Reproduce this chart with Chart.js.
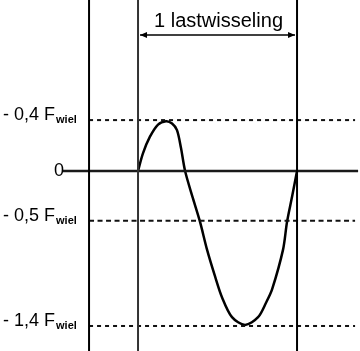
<!DOCTYPE html>
<html>
<head>
<meta charset="utf-8">
<script src="https://cdn.jsdelivr.net/npm/chart.js@4"></script>
<style>
  html, body { margin: 0; padding: 0; background: #fff; }
  #wrap { width: 360px; height: 351px; position: relative; }
</style>
</head>
<body>
<div id="wrap"><canvas id="chart"></canvas></div>
<script>
// one load cycle runs from t = 0 to t = 1, force in units of F_wiel
const curveT = [0, 0.031, 0.075, 0.126, 0.176, 0.214, 0.245, 0.27, 0.296, 0.346, 0.39, 0.434, 0.484, 0.528, 0.591, 0.673, 0.755, 0.805, 0.843, 0.912, 0.937, 0.969, 1.0];
const curveY = [0, 0.16, 0.31, 0.42, 0.45, 0.43, 0.37, 0.21, 0, -0.25, -0.46, -0.71, -0.95, -1.14, -1.32, -1.39, -1.32, -1.19, -1.07, -0.71, -0.46, -0.23, 0];

// reference levels (dotted / dashed) and their labels
const levelValues = [0.46, -0.45, -1.4];
const levelDash = [[4, 4], [5, 3.5], [4, 4]];
const tickValues = [0.46, 0, -0.45, -1.4];
const tickMain = ['- 0,4 F', '0', '- 0,5 F', '- 1,4 F'];
const tickSub = ['wiel', '', 'wiel', 'wiel'];

// vertical lines: force axis, start and end of the cycle
const axisT = -0.308;
const cycleStart = 0;
const cycleEnd = 1;
const cycleLabel = '1 lastwisseling';

const X_MIN = -0.868, X_MAX = 1.396;
const Y_MIN = -1.626, Y_MAX = 1.545;
const ZERO_FROM = -0.478, ZERO_TO = 1.384;
const LEVEL_TO = 1.365;

const datasets = [];

// vertical lines
[axisT, cycleStart, cycleEnd].forEach((t, i) => {
  datasets.push({
    data: [{ x: t, y: Y_MIN }, { x: t, y: Y_MAX }],
    borderColor: i === 1 ? '#333' : '#000',
    borderWidth: 2
  });
});

// zero line
datasets.push({
  data: [{ x: ZERO_FROM, y: 0 }, { x: ZERO_TO, y: 0 }],
  borderColor: '#1a1a1a',
  borderWidth: 2.5
});

// dotted / dashed levels
levelValues.forEach((v, i) => {
  datasets.push({
    data: [{ x: axisT, y: v }, { x: LEVEL_TO, y: v }],
    borderColor: '#111',
    borderWidth: 2,
    borderDash: levelDash[i]
  });
});

// load curve
datasets.push({
  data: curveT.map((t, i) => ({ x: t, y: curveY[i] })),
  borderColor: '#000',
  borderWidth: 2.5,
  tension: 0.3
});

const labelsPlugin = {
  id: 'labels',
  afterDatasetsDraw(chart) {
    const { ctx, scales: { x, y } } = chart;
    ctx.save();
    ctx.fillStyle = '#000';
    ctx.textBaseline = 'alphabetic';

    tickValues.forEach((v, i) => {
      const py = y.getPixelForValue(v);
      if (!tickSub[i]) {
        ctx.font = '18px "Liberation Sans", Arial, sans-serif';
        ctx.textAlign = 'right';
        ctx.textBaseline = 'middle';
        ctx.fillText(tickMain[i], 64, py);
        ctx.textBaseline = 'alphabetic';
        return;
      }
      ctx.textAlign = 'left';
      ctx.font = '18px "Liberation Sans", Arial, sans-serif';
      ctx.fillText(tickMain[i], 3, py);
      const w = ctx.measureText(tickMain[i]).width;
      ctx.font = 'bold 11px "Liberation Sans", Arial, sans-serif';
      ctx.fillText(tickSub[i], 3 + w + 1, py + 3);
    });

    // cycle label with double arrow
    const x0 = x.getPixelForValue(cycleStart) + 2;
    const x1 = x.getPixelForValue(cycleEnd) - 2;
    const ay = 35;
    ctx.strokeStyle = '#000';
    ctx.lineWidth = 1.5;
    ctx.beginPath();
    ctx.moveTo(x0, ay);
    ctx.lineTo(x1, ay);
    ctx.stroke();
    ctx.beginPath();
    ctx.moveTo(x0, ay); ctx.lineTo(x0 + 7, ay - 3); ctx.lineTo(x0 + 7, ay + 3); ctx.closePath();
    ctx.moveTo(x1, ay); ctx.lineTo(x1 - 7, ay - 3); ctx.lineTo(x1 - 7, ay + 3); ctx.closePath();
    ctx.fill();

    ctx.font = '20px "Liberation Sans", Arial, sans-serif';
    ctx.textAlign = 'center';
    ctx.fillText(cycleLabel, (x0 + x1) / 2 + 1, 27);
    ctx.restore();
  }
};

new Chart(document.getElementById('chart').getContext('2d'), {
  type: 'scatter',
  data: { datasets: datasets.map(d => ({ showLine: true, pointRadius: 0, fill: false, ...d })) },
  options: {
    responsive: true,
    maintainAspectRatio: false,
    animation: false,
    layout: { padding: 0 },
    plugins: { legend: { display: false }, tooltip: { enabled: false } },
    scales: {
      x: { type: 'linear', min: X_MIN, max: X_MAX, display: false },
      y: { type: 'linear', min: Y_MIN, max: Y_MAX, display: false }
    }
  },
  plugins: [labelsPlugin]
});
</script>
</body>
</html>
